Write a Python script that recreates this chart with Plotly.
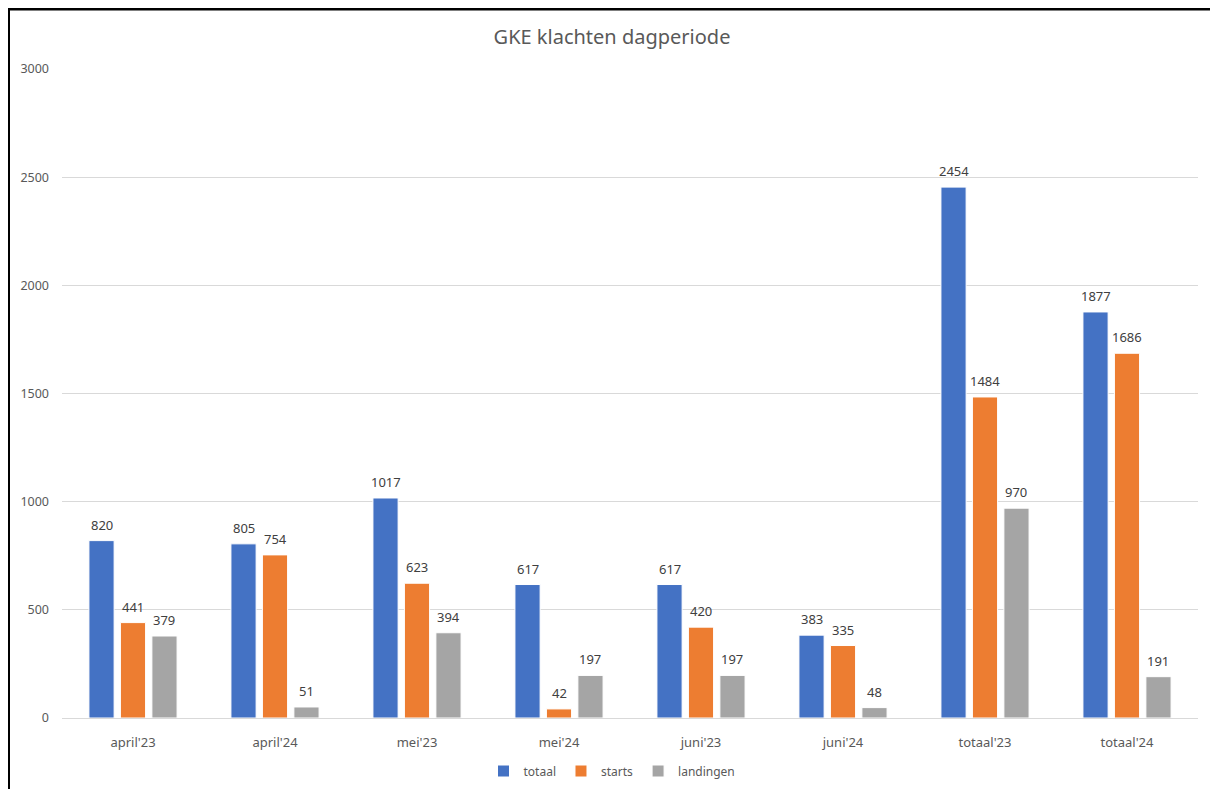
import plotly.graph_objects as go

categories = ["april'23", "april'24", "mei'23", "mei'24", "juni'23", "juni'24", "totaal'23", "totaal'24"]
totaal = [820, 805, 1017, 617, 617, 383, 2454, 1877]
starts = [441, 754, 623, 42, 420, 335, 1484, 1686]
landingen = [379, 51, 394, 197, 197, 48, 970, 191]

series = [("totaal", totaal, "#4472C4"), ("starts", starts, "#ED7D31"), ("landingen", landingen, "#A5A5A5")]

# page is offset by the browser's 8px body margin; positions below are in figure pixels
OFF = 8
W, H = 1218, 789
L, R, T = 62 - OFF, 1218 - (1198 - OFF), 69 - OFF
B = H - (718 - OFF)
pw, ph = W - L - R, H - T - B
BARGAP = 0.335

def px(x):
    return (x - OFF - L) / pw

def py(y):
    return (H - B - (y - OFF)) / ph

fig = go.Figure()
annotations = []
slot = pw / len(categories) * (1 - BARGAP) / len(series)
for i, (name, vals, col) in enumerate(series):
    fig.add_trace(go.Bar(
        x=categories, y=vals, name=name,
        marker=dict(color=col, line=dict(color="white", width=1)),
    ))
    for c, v in zip(categories, vals):
        annotations.append(dict(
            x=c, y=v, xref="x", yref="y", text=str(v), showarrow=False,
            xshift=(i - (len(series) - 1) / 2) * slot, yshift=16, yanchor="middle",
            font=dict(size=13, color="#404040"),
        ))

fig.update_layout(
    width=W, height=H,
    margin=dict(l=L, r=R, t=T, b=B, autoexpand=False),
    paper_bgcolor="white", plot_bgcolor="white",
    font=dict(family="Noto Sans, Liberation Sans, sans-serif", color="#595959", size=12),
    title=dict(text="GKE klachten dagperiode", x=(612 - OFF) / W, xanchor="center", y=1 - (37 - OFF) / H,
               yanchor="middle", font=dict(size=20, color="#595959")),
    barmode="group", bargap=BARGAP, bargroupgap=0.2,
    showlegend=True,
    legend=dict(orientation="h", x=px(612), xanchor="center", y=py(771), yanchor="middle",
                font=dict(size=12, color="#595959"), itemwidth=30, traceorder="normal"),
    xaxis=dict(showgrid=False, showline=True, linecolor="#D9D9D9", linewidth=1, ticks="",
               automargin=False, ticklabelstandoff=12,
               tickfont=dict(size=13, color="#595959")),
    yaxis=dict(range=[0, 3000], dtick=500, showgrid=True, gridcolor="#D9D9D9", zeroline=False,
               automargin=False,
               showline=False, ticks="", tickfont=dict(size=12.5, color="#595959"), ticklabelstandoff=12),
    annotations=annotations,
    shapes=[
        dict(type="line", xref="paper", yref="paper", x0=px(8), x1=px(1212), y0=py(9), y1=py(9),
             line=dict(color="black", width=3)),
        dict(type="line", xref="paper", yref="paper", x0=px(9), x1=px(9), y0=py(8), y1=py(800),
             line=dict(color="black", width=2)),
        dict(type="line", xref="paper", yref="paper", x0=px(1212), x1=px(1212), y0=py(9), y1=py(800),
             line=dict(color="#555555", width=1)),
    ],
)

fig.write_html("out.html")
